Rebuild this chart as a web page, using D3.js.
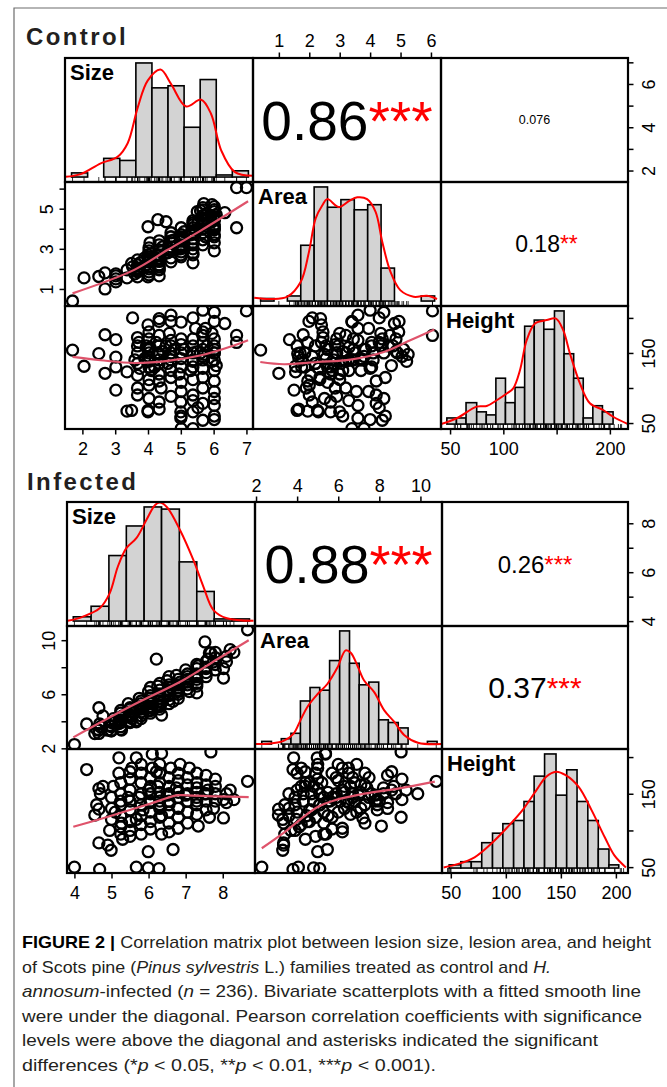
<!DOCTYPE html>
<html>
<head>
<meta charset="utf-8">
<script src="https://cdn.jsdelivr.net/npm/d3@7"></script>
<style>
  body { margin: 0; background: #fff; }
  svg { display: block; }
</style>
</head>
<body>
<svg id="fig" width="667" height="1087"></svg>
<script>
const varNames = ["Size", "Area", "Height"];

// ---- Control: one value per tree (size, area, height) ----
const ctrlSize = [
  1.70, 2.05, 2.50, 2.69, 2.69, 3.02, 3.02, 3.02, 3.02, 3.36,
  3.36, 3.53, 7.00, 6.70, 6.70, 6.34, 5.67, 6.02, 5.01, 5.37,
  4.00, 4.34, 3.68, 5.00, 5.00, 5.37, 5.67, 5.52, 6.02, 5.67,
  6.02, 5.37, 4.00, 4.34, 4.70, 6.02, 4.70, 5.67, 4.34, 5.01,
  6.02, 5.37, 5.37, 5.00, 3.50, 4.00, 3.68, 3.68, 3.68, 3.68,
  3.68, 3.60, 3.75, 3.72, 4.03, 4.03, 4.03, 4.03, 4.03, 4.03,
  3.95, 4.10, 4.03, 4.03, 3.90, 4.06, 4.03, 4.34, 4.34, 4.34,
  4.34, 4.34, 4.25, 4.45, 4.34, 4.34, 4.20, 4.40, 4.70, 4.70,
  4.70, 4.70, 4.70, 4.60, 4.80, 4.70, 4.70, 4.65, 5.01, 5.01,
  5.01, 5.01, 5.01, 4.95, 5.10, 5.01, 5.01, 5.37, 5.37, 5.37,
  5.37, 5.30, 5.45, 5.37, 5.37, 5.67, 5.67, 5.67, 5.67, 5.67,
  5.60, 5.75, 5.67, 5.67, 5.80, 5.67, 6.02, 6.02, 6.02, 6.02,
  6.02, 5.95, 6.02, 6.02, 6.02, 6.08, 6.02, 6.02, 4.03, 4.34,
  4.70, 5.37, 3.68, 5.01, 5.70, 5.95, 5.50, 4.30, 4.00, 4.55
];
const ctrlArea = [
  0.40, 1.55, 1.62, 1.80, 1.00, 1.35, 1.65, 1.75, 1.50, 1.55,
  1.95, 2.10, 6.05, 6.05, 4.05, 4.80, 4.40, 4.00, 3.40, 3.80,
  1.60, 1.65, 2.00, 2.70, 3.00, 2.30, 4.20, 4.30, 4.50, 4.00,
  4.45, 4.30, 2.40, 1.99, 3.40, 4.95, 3.60, 4.94, 2.37, 3.41,
  2.90, 2.80, 2.70, 3.60, 2.27, 2.70, 1.85, 2.20, 1.60, 2.45,
  2.05, 1.75, 2.30, 1.95, 2.10, 2.60, 1.85, 2.90, 2.35, 3.05,
  2.20, 2.75, 1.70, 2.45, 2.55, 3.30, 2.00, 2.50, 2.95, 2.20,
  3.40, 2.70, 2.40, 3.10, 1.95, 3.20, 2.60, 2.85, 2.90, 3.30,
  2.55, 3.60, 3.10, 2.80, 3.45, 2.35, 3.80, 3.00, 3.20, 3.70,
  2.85, 4.05, 3.45, 3.00, 3.85, 2.60, 3.55, 3.50, 4.05, 3.20,
  4.40, 3.70, 3.95, 3.00, 4.20, 3.80, 4.30, 3.45, 4.65, 4.00,
  4.90, 3.60, 4.50, 3.20, 4.75, 5.05, 4.10, 4.60, 3.70, 4.85,
  3.30, 4.35, 5.10, 4.20, 3.95, 4.70, 4.45, 3.60, 2.50, 2.10,
  2.90, 3.30, 1.90, 3.10, 5.25, 5.20, 4.85, 4.45, 4.10, 4.35
];
const ctrlHeight = [
  154, 131, 149, 176, 121, 169, 144, 130, 97, 123,
  67, 200, 210, 175, 165, 192, 54, 55, 42, 42,
  68, 70, 90, 80, 66, 66, 78, 72, 60, 211,
  208, 200, 190, 195, 195, 195, 204, 180, 199, 194,
  150, 140, 130, 57, 68, 66, 150, 135, 160, 172,
  118, 140, 128, 165, 145, 155, 130, 170, 112, 138,
  160, 125, 150, 180, 142, 158, 104, 148, 160, 135,
  140, 120, 165, 152, 110, 175, 130, 100, 150, 140,
  160, 168, 125, 135, 155, 115, 145, 178, 150, 142,
  162, 130, 170, 120, 155, 108, 95, 150, 160, 138,
  170, 125, 185, 112, 90, 155, 165, 140, 175, 128,
  150, 185, 115, 100, 160, 145, 150, 160, 140, 170,
  125, 178, 155, 110, 95, 132, 85, 75, 85, 80,
  88, 82, 100, 60, 148, 138, 152, 150, 140, 160
];

// Control histograms (bin edges, counts) and density curves (value, count scale)
const ctrlSizeBreaks = [1.67, 2.16, 2.65, 3.14, 3.63, 4.12, 4.61, 5.10, 5.59, 6.08, 6.57, 7.06];
const ctrlSizeCounts = [2, 0, 9, 8, 55, 43, 44, 24, 47, 1, 3];
const ctrlSizeDens = [[1.49, 0.1], [1.95, 1.4], [2.56, 6.6], [3.07, 9.7], [3.38, 16.3], [3.69, 33.7], [3.99, 46.5],
  [4.38, 51.8], [4.70, 44.9], [5.16, 34.0], [5.62, 37.3], [5.92, 30.5], [6.23, 12.9], [6.64, 2.5], [7.2, 0.6]];
const ctrlAreaBreaks = [0.40, 0.84, 1.28, 1.72, 2.16, 2.60, 3.04, 3.48, 3.92, 4.36, 4.80, 5.24, 5.68, 6.12];
const ctrlAreaCounts = [1, 0, 2, 22, 45, 37, 40, 36, 38, 13, 0, 0, 2];
const ctrlAreaDens = [[0.19, 1.3], [0.74, 0.8], [1.28, 1.7], [1.72, 7.6], [1.99, 19.4], [2.21, 32.6], [2.43, 37.8],
  [2.59, 40.2], [2.97, 37.1], [3.30, 39.4], [3.58, 40.9], [3.90, 40.2], [4.18, 35.2], [4.40, 23.3], [4.67, 11.5],
  [4.99, 4.3], [5.43, 1.7], [5.87, 2.1], [6.2, 0.8]];
const ctrlHeightBreaks = [47, 56, 65, 75, 84, 93, 102, 111, 120, 129, 138, 148, 157, 166, 175, 184, 193, 203, 212];
const ctrlHeightCounts = [2, 2, 7, 4, 3, 15, 7, 12, 32, 34, 31, 37, 23, 15, 2, 6, 4, 0];
const ctrlHeightDens = [[41.6, 0], [56.3, 1.9], [75, 5.7], [84.4, 5.9], [93.8, 7.8], [103.2, 10], [109.3, 11.7],
  [115.6, 17.6], [121.9, 27.4], [129.7, 32.9], [140.7, 34], [149.4, 34.5], [156.2, 30.7], [162.5, 23.1],
  [171.9, 13.3], [181.2, 6.8], [193.7, 4.6], [203.1, 2.4], [216.9, 0]];

// Control smooth lines under the diagonal
const ctrlFitSizeArea = [[1.7, 0.78], [3.58, 1.95], [4.60, 2.95], [5.62, 3.92], [7.05, 5.37]];
const ctrlFitSizeHeight = [[1.7, 144.3], [2.56, 139.6], [3.58, 135.7], [4.60, 138.6], [5.62, 146.7], [6.64, 161], [7.05, 168.1]];
const ctrlFitAreaHeight = [[0.39, 137.1], [1.17, 133.9], [2.27, 137.1], [3.36, 140.6], [4.45, 151.4], [5.32, 168.1], [6.11, 183.4]];

// Control correlations: Size-Area, Size-Height, Area-Height
const ctrlCorr = ["0.86", "0.076", "0.18"];
const ctrlStars = ["***", "", "**"];

// ---- Infected ----
const infSize = [
  4.00, 4.68, 5.67, 5.99, 6.28, 4.33, 4.66, 4.77, 4.66, 4.66,
  4.99, 8.67, 8.02, 8.30, 8.02, 7.68, 6.35, 5.67, 6.66, 5.99,
  7.34, 7.64, 7.52, 6.21, 4.55, 4.90, 5.20, 5.50, 6.10, 5.25,
  5.25, 5.25, 5.25, 5.25, 5.25, 5.25, 5.20, 5.30, 5.50, 5.50,
  5.50, 5.50, 5.50, 5.50, 5.45, 5.55, 5.50, 5.80, 5.80, 5.80,
  5.80, 5.80, 5.80, 5.75, 5.85, 5.80, 5.80, 6.05, 6.05, 6.05,
  6.05, 6.05, 6.05, 6.00, 6.10, 6.05, 6.05, 6.30, 6.30, 6.30,
  6.30, 6.30, 6.30, 6.25, 6.35, 6.30, 6.30, 6.30, 6.55, 6.55,
  6.55, 6.55, 6.55, 6.55, 6.50, 6.60, 6.55, 6.55, 6.80, 6.80,
  6.80, 6.80, 6.80, 6.80, 6.75, 6.85, 6.80, 7.05, 7.05, 7.05,
  7.05, 7.05, 7.00, 7.10, 7.05, 7.30, 7.30, 7.30, 7.30, 7.30,
  7.30, 7.30, 7.55, 7.55, 7.55, 7.55, 7.55, 7.60, 7.80, 7.80,
  7.80, 7.80, 7.75, 5.00, 5.00, 5.00, 5.05, 4.95, 5.10, 4.60,
  4.70, 8.10, 8.10, 8.20, 7.30, 6.35, 5.27, 5.67
];
const infArea = [
  2.28, 3.80, 4.06, 4.80, 5.10, 3.80, 5.00, 4.40, 3.10, 3.34,
  3.30, 10.77, 7.90, 9.10, 7.20, 9.06, 5.38, 4.98, 5.47, 5.00,
  8.10, 9.06, 9.87, 8.60, 3.09, 3.34, 3.83, 4.40, 5.38, 3.90,
  4.30, 3.60, 4.60, 4.10, 3.40, 4.80, 4.00, 4.40, 4.30, 4.70,
  4.00, 5.00, 4.50, 3.90, 5.30, 4.20, 4.90, 4.70, 5.10, 4.40,
  5.50, 4.90, 4.20, 5.70, 4.60, 5.30, 5.00, 5.10, 5.50, 4.80,
  5.90, 5.30, 4.60, 6.20, 5.00, 5.70, 6.50, 5.50, 5.90, 5.20,
  6.30, 5.70, 4.90, 6.60, 5.40, 6.00, 6.80, 5.10, 5.90, 6.30,
  5.60, 6.70, 6.00, 5.30, 7.00, 6.50, 6.20, 7.30, 6.30, 6.70,
  6.00, 7.10, 6.50, 5.70, 7.40, 6.90, 6.20, 6.70, 7.10, 6.40,
  7.50, 6.90, 7.80, 6.20, 7.30, 7.10, 7.50, 6.80, 7.90, 7.30,
  6.60, 8.20, 7.60, 8.00, 7.30, 8.40, 7.90, 8.60, 8.20, 8.70,
  7.80, 9.10, 8.40, 3.60, 3.90, 3.30, 4.20, 3.70, 4.00, 3.40,
  3.60, 8.80, 8.40, 9.30, 6.10, 4.46, 3.35, 3.96
];
const infHeight = [
  50, 47, 50, 49, 48, 183, 157, 160, 129, 83,
  73, 167, 142, 142, 117, 207, 205, 199, 74, 71,
  106, 118, 150, 180, 121, 80, 199, 180, 204, 135,
  150, 120, 165, 105, 95, 140, 178, 88, 140, 128,
  155, 170, 112, 100, 145, 185, 92, 150, 135, 165,
  120, 178, 108, 145, 128, 95, 190, 150, 140, 160,
  172, 125, 112, 155, 185, 102, 138, 152, 145, 165,
  130, 178, 118, 160, 95, 190, 140, 135, 150, 160,
  140, 172, 125, 110, 148, 185, 98, 135, 152, 145,
  168, 130, 178, 118, 158, 190, 103, 150, 162, 140,
  172, 125, 148, 185, 110, 152, 145, 165, 135, 178,
  122, 158, 150, 140, 162, 175, 128, 155, 150, 160,
  140, 170, 130, 130, 145, 115, 160, 100, 125, 135,
  150, 150, 138, 155, 140, 120, 110, 115
];

const infSizeBreaks = [3.97, 4.45, 4.93, 5.40, 5.88, 6.35, 6.83, 7.30, 7.77, 8.25, 8.72];
const infSizeCounts = [2, 7, 31, 45, 54, 53, 28, 14, 1, 1];
const infSizeDens = [[3.82, 0.1], [4.22, 2.0], [4.68, 6.0], [4.95, 13.1], [5.17, 25.7], [5.40, 34.5], [5.67, 39.2],
  [5.94, 47.8], [6.17, 54.8], [6.30, 56.1], [6.49, 54.0], [6.85, 43.0], [7.21, 28.8], [7.48, 16.2], [7.75, 5.2],
  [8.11, 1.3], [8.83, 0.1]];
const infAreaBreaks = [2.28, 2.75, 3.23, 3.70, 4.16, 4.63, 5.10, 5.58, 6.07, 6.55, 7.02, 7.49, 7.97, 8.44, 8.92, 9.40, 9.87, 10.34, 10.81];
const infAreaCounts = [1, 0, 2, 4, 16, 21, 20, 31, 42, 30, 22, 23, 9, 8, 6, 0, 0, 1];
const infAreaDens = [[1.87, 0], [2.69, 0.25], [3.34, 1.2], [3.83, 3.9], [4.16, 8.8], [4.49, 13.7], [4.98, 18.4],
  [5.47, 22.3], [5.96, 28.4], [6.36, 34.8], [6.61, 33.9], [6.94, 29.0], [7.26, 23.6], [7.75, 19.3], [8.24, 12.5],
  [8.73, 8.2], [9.22, 3.3], [9.88, 0.5], [11.02, 0]];
const infHeightBreaks = [48.5, 59.1, 68.6, 78.1, 87.9, 97.3, 107.1, 116.5, 125.7, 135.2, 145.6, 155.3, 164.7, 174.5, 184, 193.7, 202.6];
const infHeightCounts = [1, 2, 2, 8, 11, 14, 15, 21, 29, 36, 23, 31, 21, 15, 6, 1];
const infHeightDens = [[43.5, 0.2], [56.8, 1.3], [71.6, 3.4], [86.4, 7.6], [101.2, 12.8], [115.9, 18.6], [127.8, 24.6],
  [136.7, 28.8], [145.6, 30.4], [154.4, 29.3], [166.2, 25.6], [178, 18.2], [189.9, 9.7], [198.8, 3.9], [209.1, 0.2]];

const infFitSizeArea = [[3.97, 2.81], [5.58, 5.2], [6.93, 7.04], [7.84, 8.57], [8.70, 10.0]];
const infFitSizeHeight = [[3.97, 105], [4.68, 115.2], [5.58, 129.2], [6.03, 136.2], [6.76, 147.8], [7.03, 147.8], [7.84, 146.4], [8.70, 145.5]];
const infFitAreaHeight = [[2.28, 75.7], [3.34, 96.6], [4.16, 115.2], [4.98, 131.6], [5.80, 140.8], [7.27, 150.1], [8.91, 157.1], [10.7, 166.5]];

const infCorr = ["0.88", "0.26", "0.37"];
const infStars = ["***", "***", "***"];

// axis ticks (values) and the ones that carry a label
const ctrlAreaTicks = [1, 2, 3, 4, 5, 6];
const ctrlAreaLeftLabels = [1, 3, 5];
const ctrlSizeTicks = [2, 3, 4, 5, 6, 7];
const ctrlSizeRightLabels = [2, 4, 6];
const ctrlHeightTicks = [50, 100, 150, 200];
const ctrlHeightBottomLabels = [50, 100, 200];
const ctrlHeightRightLabels = [50, 150];
const infAreaTicks = [2, 4, 6, 8, 10];
const infAreaLeftLabels = [2, 6, 10];
const infSizeTicks = [4, 5, 6, 7, 8];
const infSizeRightLabels = [4, 6, 8];
const infHeightTicks = [50, 100, 150, 200];
const infHeightRightLabels = [50, 150];

const captionLines = [
  [["b", "FIGURE 2 | "], ["", "Correlation matrix plot between lesion size, lesion area, and height"]],
  [["", "of Scots pine ("], ["i", "Pinus sylvestris"], ["", " L.) families treated as control and "], ["i", "H."]],
  [["i", "annosum"], ["", "-infected ("], ["i", "n"], ["", " = 236). Bivariate scatterplots with a fitted smooth line"]],
  [["", "were under the diagonal. Pearson correlation coefficients with significance"]],
  [["", "levels were above the diagonal and asterisks indicated the significant"]],
  [["", "differences (*"], ["i", "p"], ["", " < 0.05, **"], ["i", "p"], ["", " < 0.01, ***"], ["i", "p"], ["", " < 0.001)."]]
];

// ------------------------------------------------------------------
const FONT = "'Liberation Sans', Arial, Helvetica, sans-serif";
const svg = d3.select("#fig");

svg.append("path")
  .attr("d", "M14,1087V8H667")
  .attr("fill", "none")
  .attr("stroke", "#6d6d6d")
  .attr("stroke-width", 1.2);

const panels = [
  {
    id: "ctrl", title: "Control", titleX: 26, titleY: 45,
    cols: [65, 253, 441, 628], rows: [58, 182, 306, 429],
    domains: [[1.47, 7.2], [0.15, 6.33], [41.5, 217]],
    vars: [ctrlSize, ctrlArea, ctrlHeight],
    breaks: [ctrlSizeBreaks, ctrlAreaBreaks, ctrlHeightBreaks],
    counts: [ctrlSizeCounts, ctrlAreaCounts, ctrlHeightCounts],
    dens: [ctrlSizeDens, ctrlAreaDens, ctrlHeightDens],
    fits: { "10": ctrlFitSizeArea, "20": ctrlFitSizeHeight, "21": ctrlFitAreaHeight },
    corr: ctrlCorr, stars: ctrlStars,
    corrFont: [55, 12.5, 23], corrDx: [0, 0, 12],
    topGap: 11,
    axes: [
      { side: "top", k: 1, ticks: ctrlAreaTicks, labels: ctrlAreaTicks },
      { side: "right", k: 0, ticks: ctrlSizeTicks, labels: ctrlSizeRightLabels },
      { side: "left", k: 1, ticks: ctrlAreaTicks, labels: ctrlAreaLeftLabels },
      { side: "bottom", k: 0, ticks: ctrlSizeTicks, labels: ctrlSizeTicks },
      { side: "bottom", k: 2, ticks: ctrlHeightTicks, labels: ctrlHeightBottomLabels },
      { side: "right", k: 2, ticks: ctrlHeightTicks, labels: ctrlHeightRightLabels }
    ]
  },
  {
    id: "inf", title: "Infected", titleX: 27, titleY: 490,
    cols: [67, 255, 442, 628], rows: [502, 626, 749, 873],
    domains: [[3.8, 8.87], [1.95, 11.05], [42, 211]],
    vars: [infSize, infArea, infHeight],
    breaks: [infSizeBreaks, infAreaBreaks, infHeightBreaks],
    counts: [infSizeCounts, infAreaCounts, infHeightCounts],
    dens: [infSizeDens, infAreaDens, infHeightDens],
    fits: { "10": infFitSizeArea, "20": infFitSizeHeight, "21": infFitAreaHeight },
    corr: infCorr, stars: infStars,
    corrFont: [54, 24, 30], corrDx: [0, 0, 0],
    topGap: 10,
    axes: [
      { side: "top", k: 1, ticks: infAreaTicks, labels: infAreaTicks },
      { side: "right", k: 0, ticks: infSizeTicks, labels: infSizeRightLabels },
      { side: "left", k: 1, ticks: infAreaTicks, labels: infAreaLeftLabels },
      { side: "bottom", k: 0, ticks: infSizeTicks, labels: infSizeTicks },
      { side: "bottom", k: 2, ticks: infHeightTicks, labels: infHeightTicks },
      { side: "right", k: 2, ticks: infHeightTicks, labels: infHeightRightLabels }
    ]
  }
];

function drawMatrix(p) {
  const g = svg.append("g").attr("id", p.id);

  g.append("text")
    .attr("x", p.titleX)
    .attr("y", p.titleY)
    .attr("font-family", FONT)
    .attr("font-weight", "bold")
    .attr("font-size", 24)
    .attr("letter-spacing", 2.4)
    .attr("fill", "#231f20")
    .text(p.title);

  const xs = p.domains.map((d, j) => d3.scaleLinear().domain(d).range([p.cols[j], p.cols[j + 1]]));
  const ys = p.domains.map((d, i) => d3.scaleLinear().domain(d).range([p.rows[i + 1], p.rows[i]]));

  for (let i = 0; i < 3; i++) {
    for (let j = 0; j < 3; j++) {
      const x0 = p.cols[j], x1 = p.cols[j + 1], y0 = p.rows[i], y1 = p.rows[i + 1];
      const clipId = `${p.id}-clip-${i}${j}`;
      g.append("clipPath").attr("id", clipId)
        .append("rect")
        .attr("x", x0).attr("y", y0)
        .attr("width", x1 - x0).attr("height", y1 - y0);
      const cell = g.append("g").attr("clip-path", `url(#${clipId})`);

      if (i === j) {
        // histogram + density + rug
        const pad = (y1 - y0) * 0.04;
        const br = p.breaks[i];
        const hy = d3.scaleLinear()
          .domain([0, d3.max(p.counts[i])])
          .range([y1 - pad, y0 + pad]);

        cell.selectAll("line.rug")
          .data(p.vars[i])
          .join("line")
          .attr("class", "rug")
          .attr("x1", d => xs[i](d)).attr("x2", d => xs[i](d))
          .attr("y1", y1).attr("y2", y1 - pad)
          .attr("stroke", "#000")
          .attr("stroke-width", 0.8);

        cell.selectAll("rect.bar")
          .data(p.counts[i])
          .join("rect")
          .attr("class", "bar")
          .attr("x", (d, k) => xs[i](br[k]))
          .attr("width", (d, k) => xs[i](br[k + 1]) - xs[i](br[k]))
          .attr("y", d => hy(d))
          .attr("height", d => hy(0) - hy(d))
          .attr("fill", "#d3d3d3")
          .attr("stroke", "#000")
          .attr("stroke-width", 1.6);

        cell.append("path")
          .datum(p.dens[i])
          .attr("d", d3.line()
            .x(d => xs[i](d[0]))
            .y(d => hy(d[1]))
            .curve(d3.curveCatmullRom))
          .attr("fill", "none")
          .attr("stroke", "#ff0000")
          .attr("stroke-width", 2);

        g.append("text")
          .attr("x", x0 + 5)
          .attr("y", y0 + 21.5)
          .attr("font-family", FONT)
          .attr("font-weight", "bold")
          .attr("font-size", 22)
          .attr("fill", "#000")
          .text(varNames[i]);
      } else if (i > j) {
        // scatter + smooth
        const pts = d3.zip(p.vars[j], p.vars[i]);
        cell.selectAll("circle")
          .data(pts)
          .join("circle")
          .attr("cx", d => xs[j](d[0]))
          .attr("cy", d => ys[i](d[1]))
          .attr("r", 5.5)
          .attr("fill", "none")
          .attr("stroke", "#000")
          .attr("stroke-width", 2.3);

        cell.append("path")
          .datum(p.fits[`${i}${j}`])
          .attr("d", d3.line()
            .x(d => xs[j](d[0]))
            .y(d => ys[i](d[1]))
            .curve(d3.curveCatmullRom))
          .attr("fill", "none")
          .attr("stroke", "#df536b")
          .attr("stroke-width", 2.2);
      } else {
        // correlation text
        const k = i + j - 1;
        const fs = p.corrFont[k];
        const t = cell.append("text")
          .attr("x", (x0 + x1) / 2 + p.corrDx[k])
          .attr("y", (y0 + y1) / 2 + fs * 0.358)
          .attr("text-anchor", "middle")
          .attr("font-family", FONT)
          .attr("font-size", fs);
        t.append("tspan").attr("fill", "#000").text(p.corr[k]);
        if (p.stars[k]) t.append("tspan").attr("fill", "#ff0000").text(p.stars[k]);
      }
    }
  }

  // cell frames
  for (let i = 0; i < 3; i++) {
    for (let j = 0; j < 3; j++) {
      g.append("rect")
        .attr("x", p.cols[j]).attr("y", p.rows[i])
        .attr("width", p.cols[j + 1] - p.cols[j])
        .attr("height", p.rows[i + 1] - p.rows[i])
        .attr("fill", "none")
        .attr("stroke", "#000")
        .attr("stroke-width", 2.2);
    }
  }

  // axes
  p.axes.forEach(a => {
    let axis, tr;
    if (a.side === "top") { axis = d3.axisTop(xs[a.k]); tr = `translate(0,${p.rows[0]})`; }
    if (a.side === "bottom") { axis = d3.axisBottom(xs[a.k]); tr = `translate(0,${p.rows[3]})`; }
    if (a.side === "left") { axis = d3.axisLeft(ys[a.k]); tr = `translate(${p.cols[0]},0)`; }
    if (a.side === "right") { axis = d3.axisRight(ys[a.k]); tr = `translate(${p.cols[3]},0)`; }
    axis.tickValues(a.ticks).tickSize(5.5)
      .tickFormat(d => a.labels.includes(d) ? d : "");

    const ax = g.append("g").attr("transform", tr).call(axis);
    ax.select(".domain").remove();
    ax.attr("font-size", 18).attr("font-family", FONT);
    ax.selectAll(".tick line").attr("stroke", "#000").attr("stroke-width", 1.5);
    const txt = ax.selectAll(".tick text").attr("fill", "#000");
    if (a.side === "top") txt.attr("y", -p.topGap).attr("dy", null);
    if (a.side === "bottom") txt.attr("y", 26).attr("dy", null);
    if (a.side === "left" || a.side === "right") {
      const off = a.side === "left" ? -12 : 27;
      txt.attr("x", 0).attr("y", 0).attr("dy", null)
        .attr("text-anchor", "middle")
        .attr("transform", `translate(${off},0) rotate(-90)`);
    }
  });
}

panels.forEach(drawMatrix);

// caption
const capY = [948, 973, 997, 1022, 1046, 1071];
const capW = [629, 529, 619, 620, 576, 414];
const cap = svg.append("g")
  .attr("font-family", FONT)
  .attr("font-size", 17)
  .attr("fill", "#231f20");

captionLines.forEach((line, li) => {
  const t = cap.append("text")
    .attr("x", 22)
    .attr("y", capY[li])
    .attr("textLength", capW[li])
    .attr("lengthAdjust", "spacingAndGlyphs");
  line.forEach(([style, s]) => {
    const ts = t.append("tspan").text(s);
    if (style === "b") ts.attr("font-weight", "bold").attr("fill", "#000");
    if (style === "i") ts.attr("font-style", "italic");
  });
});
</script>
</body>
</html>
